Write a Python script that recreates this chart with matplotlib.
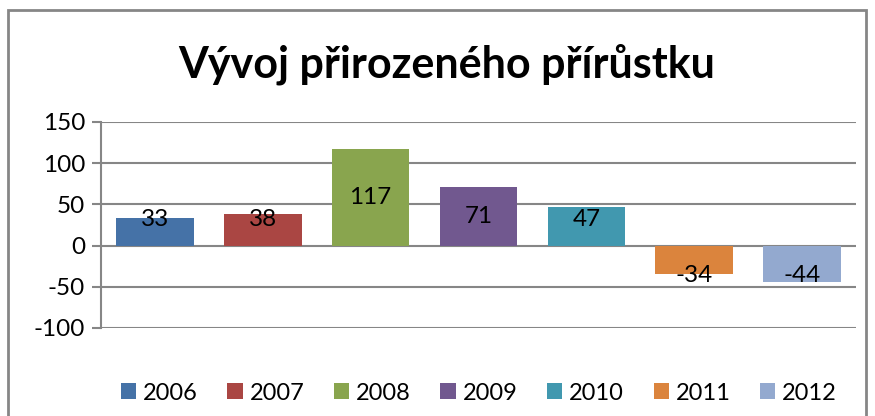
import matplotlib
matplotlib.use("Agg")
import matplotlib.pyplot as plt
from matplotlib.patches import Rectangle, Patch

years = ["2006", "2007", "2008", "2009", "2010", "2011", "2012"]
values = [33, 38, 117, 71, 47, -34, -44]
colors = ["#4572A7", "#AA4643", "#89A54E", "#71588F", "#4198AF", "#DB843D", "#93A9CF"]
yticks = [-100, -50, 0, 50, 100, 150]
title = "Vývoj přirozeného přírůstku"

plt.rcParams['font.family'] = ['Lato', 'DejaVu Sans']
W, H = 875, 416
fig = plt.figure(figsize=(W / 100, H / 100), dpi=100)
fig.patch.set_facecolor("white")

# outer chart border (bottom edge runs beyond the picture)
fig.patches.append(Rectangle((8 / W, -0.1), (866 - 8) / W, 1.1 - 10 / H,
                             transform=fig.transFigure, fill=False,
                             edgecolor="#868686", linewidth=2))

ax = fig.add_axes([101 / W, (H - 328) / H, (856 - 101) / W, (328 - 122) / H])
ax.set_facecolor("white")
x = list(range(len(years)))
ax.bar(x, values, width=0.72, color=colors, zorder=3)
ax.set_xlim(-0.5, len(years) - 0.5)
ax.set_ylim(-100, 150)
ax.set_yticks(yticks)
ax.set_yticklabels([str(t) for t in yticks], fontsize=17.5)
ax.set_xticks([])
ax.yaxis.grid(True, color="#868686", linewidth=1.5, zorder=1)
for s in ["top", "right", "bottom"]:
    ax.spines[s].set_visible(False)
ax.spines["left"].set_color("#868686")
ax.spines["left"].set_linewidth(1.5)
ax.tick_params(axis="y", length=6.5, width=1.5, color="#868686", pad=5)

for xi, v in zip(x, values):
    ly = max(v / 2, 32) if v > 0 else -36
    ax.text(xi, ly, str(v), ha="center", va="center", fontsize=17.5,
            color="black", zorder=4)

fig.text(447 / W, 1 - 64 / H, title, ha="center", va="center",
         fontsize=31, fontweight="bold")

handles = [Patch(facecolor=c, edgecolor="none") for c in colors]
leg = fig.legend(handles, years, loc="center", bbox_to_anchor=(479 / W, 1 - 393 / H),
                 ncol=7, frameon=False, fontsize=17, handlelength=0.64,
                 handleheight=0.64, handletextpad=0.3, columnspacing=1.25,
                 borderaxespad=0)

fig.savefig("out.png", dpi=100)
